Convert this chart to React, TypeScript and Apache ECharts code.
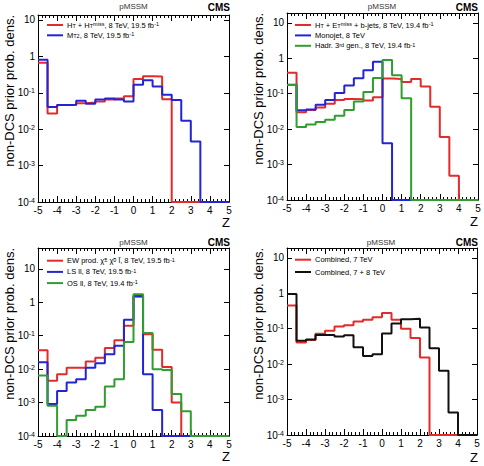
import React, { useEffect, useRef } from "react";
import * as echarts from "echarts";

// ---------- data ----------
const BIN_EDGES = [-5, -4.5, -4, -3.5, -3, -2.5, -2, -1.5, -1, -0.5, 0, 0.5, 1, 1.5, 2, 2.5, 3, 3.5, 4, 4.5, 5];
const X_MIN = -5;
const X_MAX = 5;
const Y_MIN = 1e-4;
const Y_MAX = [13.7, 19, 42, 19];

// Panel 1
const P1_HT_HTMISS = [0.67, 0.027, 0.046, 0.046, 0.052, 0.054, 0.058, 0.065, 0.07, 0.08, 0.24, 0.285, 0.28, 0.066, 0, 0, 0, 0, 0, 0];
const P1_MT2 = [0.81, 0.041, 0.046, 0.047, 0.06, 0.05, 0.065, 0.07, 0.065, 0.058, 0.165, 0.22, 0.15, 0.089, 0.063, 0.017, 0.0046, 0, 0, 0];
// Panel 2
const P2_HT_ETMISS_BJETS = [0.39, 0.03, 0.035, 0.041, 0.052, 0.066, 0.071, 0.07, 0.064, 0.08, 0.27, 0.26, 0.215, 0.26, 0.16, 0.043, 0.006, 0.00048, 0, 0];
const P2_MONOJET = [0.18, 0.034, 0.036, 0.049, 0.066, 0.105, 0.17, 0.275, 0.46, 0.8, 0.004, 0, 0, 0, 0, 0, 0, 0, 0, 0];
const P2_HADR_3RD = [0.175, 0.0115, 0.0135, 0.016, 0.0185, 0.024, 0.035, 0.06, 0.112, 0.28, 0.9, 0.33, 0.075, 0, 0, 0, 0, 0, 0, 0];
// Panel 3
const P3_EW = [0.037, 0.0045, 0.007, 0.011, 0.011, 0.017, 0.022, 0.043, 0.073, 0.2, 1.45, 0.11, 0.038, 0.0115, 0.001, 0, 0, 0, 0, 0];
const P3_LS = [0.016, 0.0009, 0.0022, 0.004, 0.005, 0.011, 0.015, 0.028, 0.05, 0.3, 1.55, 0.007, 0.0006, 0, 0, 0, 0, 0, 0, 0];
const P3_OS = [0.0065, 0.0008, 0, 0.0003, 0.0004, 0.0006, 0.00075, 0.003, 0.005, 0.065, 1.75, 0.12, 0.01, 0.0095, 0.0018, 0.00055, 0, 0, 0, 0];
// Panel 4
const P4_COMB_7 = [0.45, 0.041, 0.048, 0.072, 0.088, 0.115, 0.125, 0.16, 0.18, 0.21, 0.28, 0.18, 0.1, 0.055, 0.0155, 0, 0, 0, 0, 0];
const P4_COMB_78 = [0.95, 0.046, 0.05, 0.067, 0.066, 0.06, 0.065, 0.03, 0.017, 0.019, 0.073, 0.14, 0.185, 0.19, 0.108, 0.028, 0.0065, 0.00043, 0, 0];

// legend texts (rich)
const NB = "\u00a0";
const LABELS: Record<string, string> = {
  p1a: `{n|H}{sub|T}{n|${NB}+ H}{sub|T}{sup|miss}{n|, 8 TeV, 19.5 fb}{sup|-1}`,
  p1b: `{n|M}{sub|T2}{n|, 8 TeV, 19.5 fb}{sup|-1}`,
  p2a: `{n|H}{sub|T}{n|${NB}+ E}{sub|T}{sup|miss}{n|${NB}+ b-jets, 8 TeV, 19.4 fb}{sup|-1}`,
  p2b: `{n|Monojet, 8 TeV}`,
  p2c: `{n|Hadr. 3}{sup|rd}{n|${NB}gen., 8 TeV, 19.4 fb}{sup|-1}`,
  p3a: `{n|EW prod. χ̃}{sup|±}{n|${NB}χ̃}{sup|0}{n|${NB}l̃, 8 TeV, 19.5 fb}{sup|-1}`,
  p3b: `{n|LS ll, 8 TeV, 19.5 fb}{sup|-1}`,
  p3c: `{n|OS ll, 8 TeV, 19.4 fb}{sup|-1}`,
  p4a: `{n|Combined, 7 TeV}`,
  p4b: `{n|Combined, 7 + 8 TeV}`,
};

const RED = "#e42a2a";
const BLUE = "#2424d6";
const GREEN = "#2f9e2f";
const BLACK = "#111111";
const FONT = '"Liberation Sans", Arial, Helvetica, sans-serif';

// ---------- layout ----------
const PANELS = [
  { grid: { left: 38, top: 15, width: 191, height: 187 }, legend: { left: 47, top: 20, gap: 0.3 }, series: [["p1a", P1_HT_HTMISS, RED], ["p1b", P1_MT2, BLUE]], ytx: 9.5, yty: 15, zx: 230, zy: 222, px: 133.5, py: 6.5, cx: 230, cy: 7 },
  { grid: { left: 287, top: 13, width: 191, height: 187 }, legend: { left: 295, top: 20, gap: 0.4 }, series: [["p2a", P2_HT_ETMISS_BJETS, RED], ["p2b", P2_MONOJET, BLUE], ["p2c", P2_HADR_3RD, GREEN]], ytx: 258.5, yty: 13, zx: 478, zy: 221, px: 382, py: 6.5, cx: 478, cy: 7 },
  { grid: { left: 38, top: 248, width: 191, height: 188 }, legend: { left: 47, top: 255.7, gap: 1.2 }, series: [["p3a", P3_EW, RED], ["p3b", P3_LS, BLUE], ["p3c", P3_OS, GREEN]], ytx: 9.5, yty: 248, zx: 230, zy: 456, px: 133.5, py: 242, cx: 230, cy: 242.5 },
  { grid: { left: 287, top: 248, width: 190, height: 187 }, legend: { left: 295, top: 254.7, gap: 2.3 }, series: [["p4a", P4_COMB_7, RED], ["p4b", P4_COMB_78, BLACK]], ytx: 258.5, yty: 248, zx: 478, zy: 457, px: 381, py: 242, cx: 478, cy: 242.5 },
];

function histPoints(values: number[]) {
  return BIN_EDGES.map((e, i) => {
    const v = values[Math.min(i, values.length - 1)];
    return [e, v > Y_MIN ? v : Y_MIN];
  });
}

function logLabel(v: number) {
  const e = Math.log10(v);
  const r = Math.round(e);
  if (Math.abs(e - r) > 1e-6) return "";
  if (r === 0) return "{b|1}";
  if (r === 1) return "{b|10}";
  return `{b|10}{s|${r}}`;
}

function buildOption() {
  const grid: any[] = [];
  const xAxis: any[] = [];
  const yAxis: any[] = [];
  const series: any[] = [];
  const legend: any[] = [];
  const graphic: any[] = [];

  const axisLine = { show: true, onZero: false, lineStyle: { color: "#000", width: 1 } };
  PANELS.forEach((p, gi) => {
    grid.push({ ...p.grid, containLabel: false });
    xAxis.push({
      type: "value", gridIndex: gi, min: X_MIN, max: X_MAX, interval: 1, position: "bottom",
      axisLine, splitLine: { show: false },
      axisTick: { show: true, inside: true, length: 6, lineStyle: { color: "#000" } },
      minorTick: { show: true, splitNumber: 5, length: 3, lineStyle: { color: "#000" } },
      axisLabel: { show: true, fontFamily: FONT, fontSize: 10, color: "#000", margin: 3, hideOverlap: false, showMinLabel: true, showMaxLabel: true },
    });
    yAxis.push({
      type: "log", logBase: 10, gridIndex: gi, min: Y_MIN, max: Y_MAX[gi], position: "left",
      axisLine, splitLine: { show: false },
      axisTick: { show: true, inside: true, length: 5, lineStyle: { color: "#000" } },
      axisLabel: {
        show: true, margin: 3, formatter: logLabel, hideOverlap: false, showMinLabel: true,
        rich: {
          b: { fontFamily: FONT, fontSize: 10, color: "#000", lineHeight: 11, padding: [2, 0, 2, 0] },
          s: { fontFamily: FONT, fontSize: 7, color: "#000", lineHeight: 7, verticalAlign: "top" },
        },
      },
    });
  });
  PANELS.forEach((p, gi) => {
    xAxis.push({
      type: "value", gridIndex: gi, min: X_MIN, max: X_MAX, interval: 1, position: "top",
      axisLine, splitLine: { show: false }, axisLabel: { show: false },
      axisTick: { show: true, inside: true, length: 6, lineStyle: { color: "#000" } },
      minorTick: { show: true, splitNumber: 5, length: 3, lineStyle: { color: "#000" } },
    });
    yAxis.push({
      type: "log", logBase: 10, gridIndex: gi, min: Y_MIN, max: Y_MAX[gi], position: "right",
      axisLine, splitLine: { show: false }, axisLabel: { show: false },
      axisTick: { show: true, inside: true, length: 5, lineStyle: { color: "#000" } },
    });
  });

  PANELS.forEach((p, gi) => {
    const names: string[] = [];
    p.series.forEach(([name, vals, color]: any) => {
      names.push(name);
      series.push({
        name, type: "line", step: "end", xAxisIndex: gi, yAxisIndex: gi,
        data: histPoints(vals), showSymbol: false, symbol: "none", color,
        lineStyle: { color, width: 2 }, silent: true, z: 3,
      });
    });
    legend.push({
      data: names, orient: "vertical", left: p.legend.left, top: p.legend.top, padding: 0,
      itemGap: p.legend.gap, itemWidth: 16, itemHeight: 2, icon: "rect", selectedMode: false,
      formatter: (n: string) => LABELS[n],
      textStyle: {
        fontFamily: FONT, fontSize: 7.5, color: "#000", padding: [0, 0, 0, -1],
        rich: {
          n: { fontFamily: FONT, fontSize: 7.5, color: "#000", lineHeight: 8, padding: [1, 0, 1, 0] },
          sup: { fontFamily: FONT, fontSize: 5.5, color: "#000", lineHeight: 5, verticalAlign: "top" },
          sub: { fontFamily: FONT, fontSize: 5.5, color: "#000", lineHeight: 5, verticalAlign: "bottom" },
        },
      },
    });
    graphic.push(
      {
        type: "text", x: p.ytx, y: p.yty, rotation: Math.PI / 2,
        style: { text: "non-DCS prior prob. dens.", fontFamily: FONT, fontSize: 13, fill: "#000", align: "right", verticalAlign: "middle" },
      },
      { type: "text", x: p.zx, y: p.zy, style: { text: "Z", fontFamily: FONT, fontSize: 13, fill: "#000", align: "right", verticalAlign: "middle" } },
      { type: "text", x: p.px, y: p.py, style: { text: "pMSSM", fontFamily: FONT, fontSize: 8, fill: "#333333", align: "center", verticalAlign: "middle" } },
      { type: "text", x: p.cx, y: p.cy, style: { text: "CMS", fontFamily: FONT, fontSize: 10, fontWeight: "bold", fill: "#000", align: "right", verticalAlign: "middle" } },
    );
  });

  return { animation: false, backgroundColor: "#fff", grid, xAxis, yAxis, series, legend, graphic };
}

export default function App() {
  const ref = useRef<HTMLDivElement>(null);
  useEffect(() => {
    const chart = echarts.init(ref.current!, null, { renderer: "svg" });
    chart.setOption(buildOption() as any);
    return () => chart.dispose();
  }, []);
  return <div ref={ref} style={{ position: "absolute", left: 0, top: 0, width: 484, height: 466, background: "#fff" }} />;
}
